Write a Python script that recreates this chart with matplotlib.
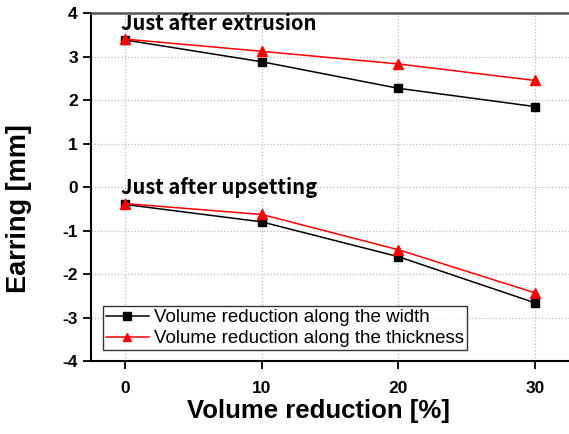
import matplotlib
matplotlib.use("Agg")
import matplotlib.pyplot as plt

reduction = [0, 10, 20, 30]
# earring just after extrusion
extr_width = [3.38, 2.88, 2.27, 1.85]
extr_thick = [3.40, 3.12, 2.83, 2.45]
# earring just after upsetting
ups_width = [-0.40, -0.80, -1.60, -2.66]
ups_thick = [-0.38, -0.63, -1.44, -2.43]

plt.rcParams['font.family'] = ['Liberation Sans', 'DejaVu Sans']
plt.rcParams['axes.unicode_minus'] = False

fig = plt.figure(figsize=(5.69, 4.34), dpi=100)
ax = fig.add_axes([0.16, 0.168, 0.84, 0.802])

ax.plot(reduction, extr_width, color='black', marker='s', ms=6, lw=1.1,
        label='Volume reduction along the width')
ax.plot(reduction, extr_thick, color='red', marker='^', ms=7.5, lw=1.1,
        label='Volume reduction along the thickness')
ax.plot(reduction, ups_width, color='black', marker='s', ms=6, lw=1.1)
ax.plot(reduction, ups_thick, color='red', marker='^', ms=7.5, lw=1.1)

ax.text(-0.3, 3.6, 'Just after extrusion', fontsize=14.5, fontweight='bold',
        family=['Noto Sans CJK KR', 'DejaVu Sans'])
ax.text(-0.3, -0.17, 'Just after upsetting', fontsize=14.5, fontweight='bold',
        family=['Noto Sans CJK KR', 'DejaVu Sans'])

ax.set_xlim(-2.5, 32.5)
ax.set_ylim(-4, 4)
ax.set_xticks(reduction)
ax.set_yticks(range(-4, 5))
ax.grid(True, color='#bbbbbb', linestyle=':', lw=0.9)
ax.tick_params(direction='out', length=6, width=1.3, labelsize=12.5)
ax.tick_params(axis='x', pad=8)
for lab in ax.get_xticklabels() + ax.get_yticklabels():
    lab.set_fontweight('bold')
ax.spines['left'].set_linewidth(1.5)
ax.spines['bottom'].set_linewidth(1.5)
ax.spines['top'].set_linewidth(1.8)
ax.spines['top'].set_color('#555555')
ax.spines['right'].set_visible(False)

ax.set_xlabel('Volume reduction [%]', fontsize=18.5, fontweight='bold')
ax.set_ylabel('Earring [mm]', fontsize=19.5, fontweight='bold')
ax.xaxis.set_label_coords(0.475, -0.11)
ax.yaxis.set_label_coords(-0.123, 0.438)

leg = ax.legend(loc='lower left', bbox_to_anchor=(0.025, 0.032), fontsize=13.5,
                frameon=True, fancybox=False, edgecolor='black',
                borderpad=0.15, labelspacing=0.2, handlelength=2.3,
                handletextpad=0.27, borderaxespad=0, markerscale=0.85)
leg.get_frame().set_linewidth(1.0)

fig.savefig('out.png', dpi=100)
